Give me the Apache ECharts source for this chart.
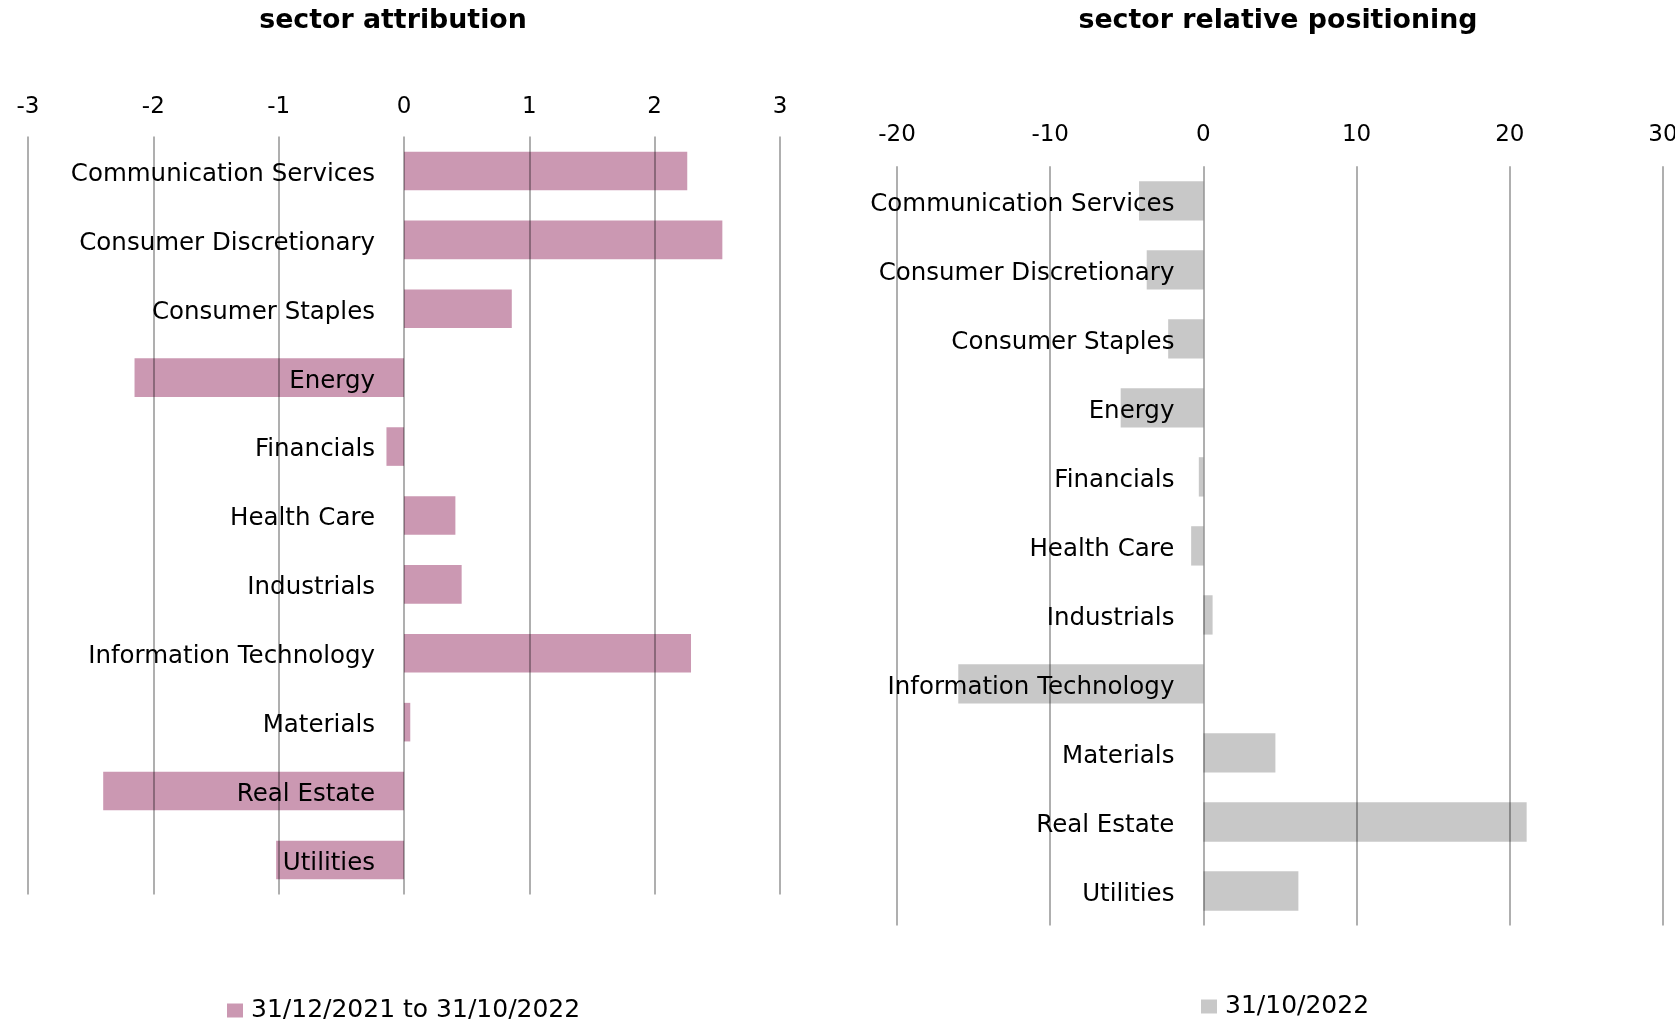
<!DOCTYPE html>
<html>
<head>
<meta charset="utf-8">
<script src="https://cdn.jsdelivr.net/npm/echarts@6/dist/echarts.min.js"></script>
<style>
  html, body { margin: 0; padding: 0; background: #fff; }
  #chart { width: 1675px; height: 1019px; }
</style>
</head>
<body>
<div id="chart"></div>
<script>
// Sector names, top to bottom
const sectors = [
  'Communication Services', 'Consumer Discretionary', 'Consumer Staples', 'Energy',
  'Financials', 'Health Care', 'Industrials', 'Information Technology',
  'Materials', 'Real Estate', 'Utilities'
];

// Attribution (percentage points), 31/12/2021 to 31/10/2022
const attributionName = '31/12/2021 to 31/10/2022';
const attribution = [2.26, 2.54, 0.86, -2.15, -0.14, 0.41, 0.46, 2.29, 0.05, -2.40, -1.02];

// Relative positioning (%), as at 31/10/2022
const positioningName = '31/10/2022';
const positioning = [-4.2, -3.7, -2.3, -5.4, -0.3, -0.8, 0.6, -16.0, 4.7, 21.1, 6.2];

// Value-axis ticks
const attributionTicks = [-3, -2, -1, 0, 1, 2, 3];
const positioningTicks = [-20, -10, 0, 10, 20, 30];

const W = 1675, H = 1019;
const FONT = '"DejaVu Sans"';
const PINK = '#CB98B2';
const GREY = '#C8C8C8';
const GRIDLINE = { color: 'rgba(0,0,0,0.42)', width: 1.5 };

// Plot rectangles of the two panels
const grids = [
  { left: 28, right: 895, top: 136.5, bottom: 124.6 },
  { left: 897, right: 12, top: 166.3, bottom: 93.5 }
];

function valueAxis(gridIndex, ticks, margin) {
  return {
    gridIndex: gridIndex,
    type: 'value',
    position: 'top',
    min: ticks[0],
    max: ticks[ticks.length - 1],
    interval: ticks[1] - ticks[0],
    axisLine: { show: false },
    axisTick: { show: false },
    axisLabel: { fontFamily: FONT, fontSize: 23, color: '#000', margin: margin },
    splitLine: { show: true, lineStyle: GRIDLINE },
    z: 5
  };
}

// Category labels sit just left of the zero line, drawn over the bars:
// the axis is shifted from the panel's left edge to where zero falls.
function categoryAxis(gridIndex, ticks) {
  const g = grids[gridIndex];
  const width = W - g.left - g.right;
  const lo = ticks[0], hi = ticks[ticks.length - 1];
  const zeroShift = width * (0 - lo) / (hi - lo);
  return {
    gridIndex: gridIndex,
    type: 'category',
    data: sectors,
    inverse: true,
    position: 'left',
    offset: -zeroShift,
    axisLine: { show: false },
    axisTick: { show: false },
    // a short top-aligned line box drops the text a few pixels onto the bar centre
    axisLabel: { fontFamily: FONT, fontSize: 24.5, color: '#000', margin: 29, verticalAlign: 'top', lineHeight: 7 },
    splitLine: { show: false },
    z: 6
  };
}

const chart = echarts.init(document.getElementById('chart'), null, { renderer: 'canvas' });

chart.setOption({
  animation: false,
  backgroundColor: '#fff',
  graphic: [
    {
      type: 'text', x: 393, y: 21,
      style: { text: 'sector attribution', font: 'bold 26.8px "DejaVu Sans"', fill: '#000', align: 'center', verticalAlign: 'middle' }
    },
    {
      type: 'text', x: 1278, y: 21,
      style: { text: 'sector relative positioning', font: 'bold 26.8px "DejaVu Sans"', fill: '#000', align: 'center', verticalAlign: 'middle' }
    }
  ],
  grid: grids.map(function (g) {
    return Object.assign({ outerBoundsMode: 'none', containLabel: false }, g);
  }),
  xAxis: [
    valueAxis(0, attributionTicks, 18),
    valueAxis(1, positioningTicks, 20)
  ],
  yAxis: [
    categoryAxis(0, attributionTicks),
    categoryAxis(1, positioningTicks)
  ],
  legend: [
    {
      data: [attributionName], left: 222, top: 993,
      icon: 'rect', itemWidth: 16, itemHeight: 14, itemGap: 8,
      textStyle: { fontFamily: FONT, fontSize: 25, color: '#000', padding: [0, 0, 0, 3] }
    },
    {
      data: [positioningName], left: 1196, top: 989,
      icon: 'rect', itemWidth: 16, itemHeight: 14, itemGap: 8,
      textStyle: { fontFamily: FONT, fontSize: 25, color: '#000', padding: [0, 0, 0, 3] }
    }
  ],
  series: [
    {
      name: attributionName, type: 'bar', xAxisIndex: 0, yAxisIndex: 0,
      data: attribution, barCategoryGap: '44%',
      itemStyle: { color: PINK }
    },
    {
      name: positioningName, type: 'bar', xAxisIndex: 1, yAxisIndex: 1,
      data: positioning, barCategoryGap: '43%',
      itemStyle: { color: GREY }
    }
  ]
});
</script>
</body>
</html>
